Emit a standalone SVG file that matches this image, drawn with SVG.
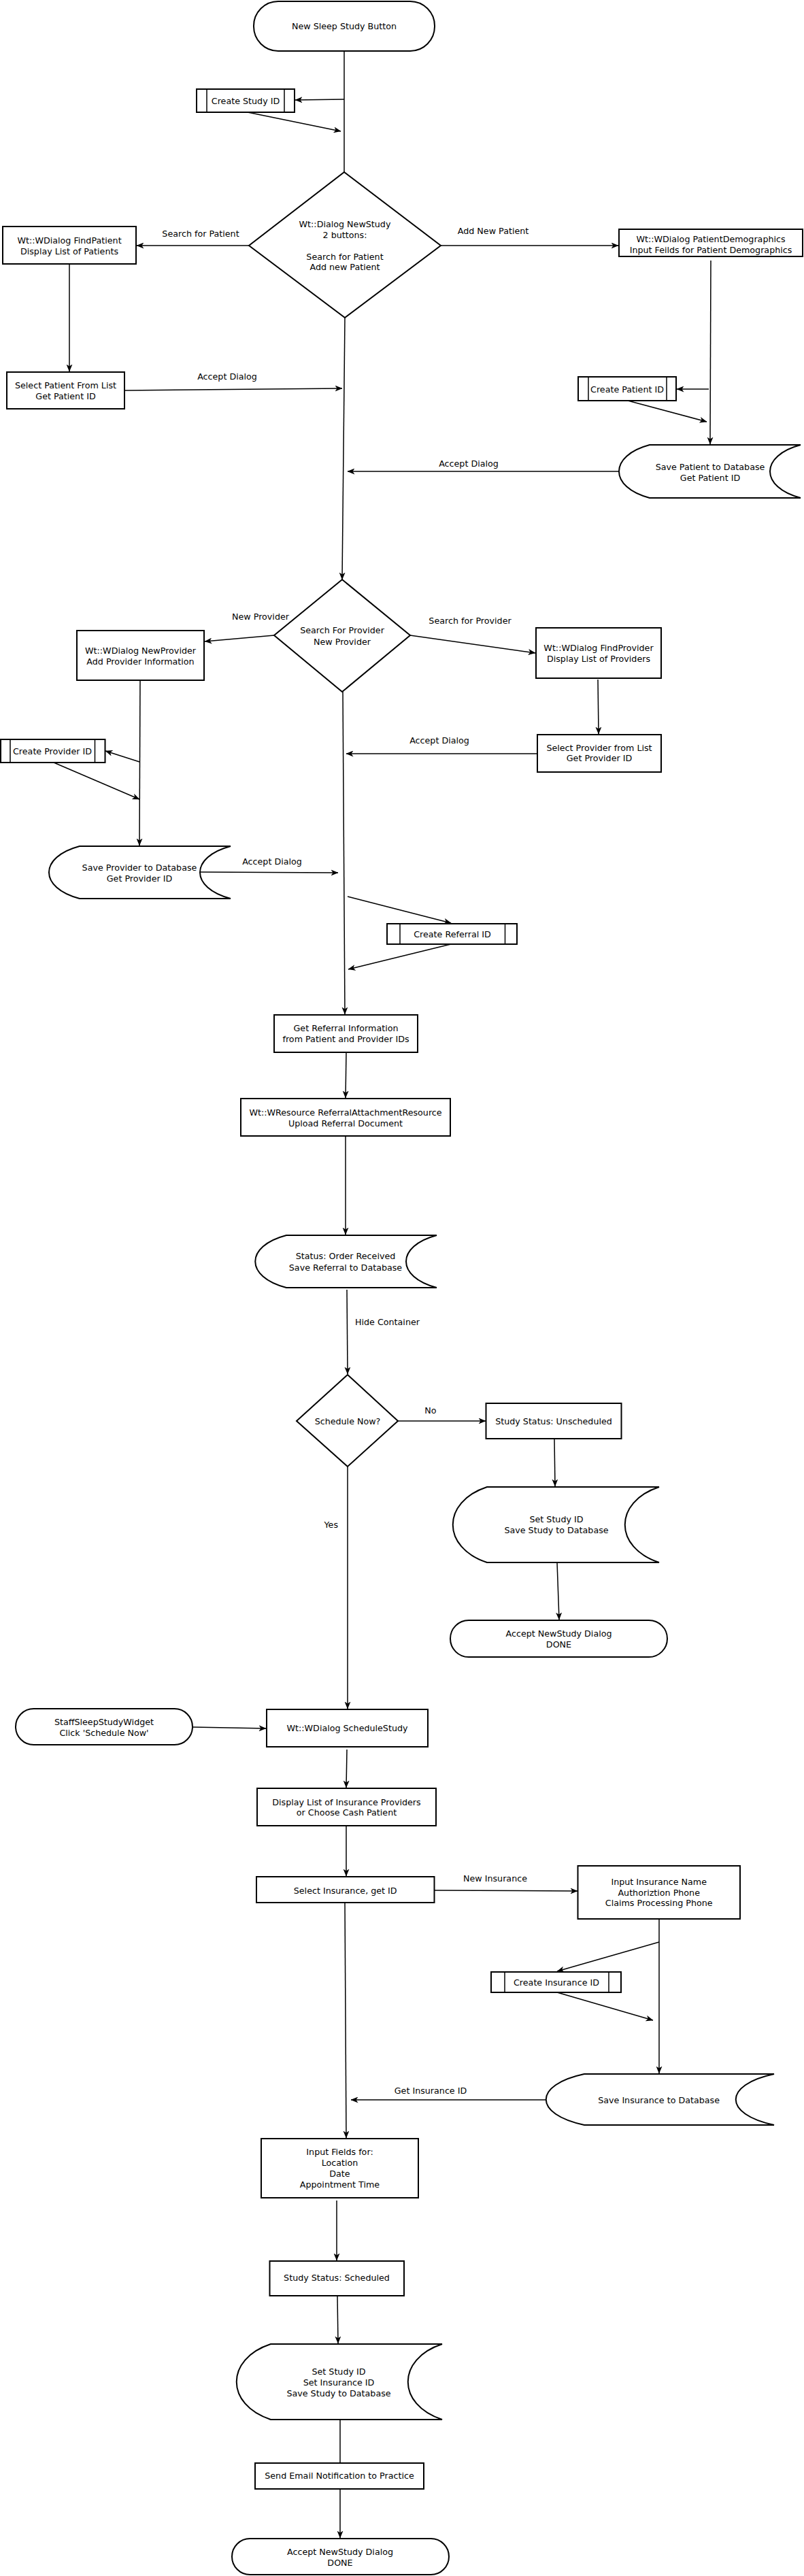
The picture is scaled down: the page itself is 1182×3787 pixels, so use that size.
<svg xmlns="http://www.w3.org/2000/svg" width="1182" height="3787" viewBox="0 0 1182 3787">
<style>
.n{fill:#fff;stroke:#000;stroke-width:2}
.i{stroke:#000;stroke-width:1.5;fill:none}
.t{font-family:"DejaVu Sans",sans-serif;font-size:12.7px;fill:#000;text-anchor:middle}
.l{font-family:"DejaVu Sans",sans-serif;font-size:12.7px;fill:#000}
.c{stroke:#000;stroke-width:1.5;fill:none}
.a{marker-end:url(#arr)}
</style>
<defs>
<marker id="arr" viewBox="0 0 11 9" refX="10.5" refY="4.5" markerWidth="11" markerHeight="9" markerUnits="userSpaceOnUse" orient="auto"><path d="M0,0 L11,4.5 L0,9 L3,4.5 z" fill="#000"/></marker>
</defs>
<rect width="1182" height="3787" fill="#fff"/>

<g id="connectors">
<line class="c" x1="506" y1="75" x2="506" y2="253"/>
<line class="c a" x1="506" y1="146" x2="434" y2="147"/>
<line class="c a" x1="364" y1="165" x2="501" y2="193"/>
<line class="c a" x1="366" y1="361" x2="201" y2="361"/>
<line class="c a" x1="102" y1="388" x2="102" y2="546"/>
<line class="c a" x1="183" y1="574" x2="503" y2="571"/>
<line class="c a" x1="648" y1="361" x2="909" y2="361"/>
<line class="c a" x1="1045" y1="383" x2="1044" y2="653"/>
<line class="c a" x1="1042" y1="572" x2="995" y2="572"/>
<line class="c a" x1="923" y1="589" x2="1039" y2="620"/>
<line class="c a" x1="910" y1="693" x2="511" y2="693"/>
<line class="c a" x1="507" y1="467" x2="503" y2="852"/>
<line class="c a" x1="403" y1="934" x2="301" y2="943"/>
<line class="c a" x1="603" y1="934" x2="787" y2="960"/>
<line class="c a" x1="879" y1="999" x2="880" y2="1079"/>
<line class="c a" x1="790" y1="1108" x2="509" y2="1108"/>
<line class="c a" x1="206" y1="1000" x2="205" y2="1243"/>
<line class="c a" x1="205" y1="1120" x2="155" y2="1104"/>
<line class="c a" x1="79" y1="1121" x2="205" y2="1175"/>
<line class="c a" x1="294" y1="1282" x2="497" y2="1283"/>
<line class="c a" x1="504" y1="1017" x2="507" y2="1491"/>
<line class="c a" x1="511" y1="1318" x2="663" y2="1357"/>
<line class="c a" x1="663" y1="1388" x2="512" y2="1425"/>
<line class="c a" x1="509" y1="1547" x2="508" y2="1614"/>
<line class="c a" x1="508" y1="1670" x2="508" y2="1815"/>
<line class="c a" x1="510" y1="1896" x2="511" y2="2020"/>
<line class="c a" x1="585" y1="2089" x2="714" y2="2089"/>
<line class="c a" x1="815" y1="2115" x2="816" y2="2185"/>
<line class="c a" x1="819" y1="2297" x2="822" y2="2381"/>
<line class="c a" x1="511" y1="2156" x2="511" y2="2512"/>
<line class="c a" x1="283" y1="2539" x2="391" y2="2541"/>
<line class="c a" x1="510" y1="2572" x2="509" y2="2628"/>
<line class="c a" x1="509" y1="2684" x2="509" y2="2758"/>
<line class="c a" x1="638" y1="2779" x2="849" y2="2780"/>
<line class="c a" x1="969" y1="2821" x2="969" y2="3048"/>
<line class="c a" x1="969" y1="2855" x2="819" y2="2898"/>
<line class="c a" x1="819" y1="2929" x2="960" y2="2970"/>
<line class="c a" x1="803" y1="3087" x2="516" y2="3087"/>
<line class="c a" x1="507" y1="2797" x2="509" y2="3143"/>
<line class="c a" x1="495" y1="3235" x2="495" y2="3323"/>
<line class="c a" x1="496" y1="3375" x2="497" y2="3445"/>
<line class="c" x1="500" y1="3557" x2="500" y2="3621"/>
<line class="c a" x1="500" y1="3659" x2="500" y2="3731"/>
<text class="t" x="295" y="348">Search for Patient</text>
<text class="t" x="334" y="558">Accept Dialog</text>
<text class="t" x="725" y="344">Add New Patient</text>
<text class="t" x="689" y="686">Accept Dialog</text>
<text class="t" x="383" y="911">New Provider</text>
<text class="t" x="691" y="917">Search for Provider</text>
<text class="t" x="646" y="1093">Accept Dialog</text>
<text class="t" x="400" y="1271">Accept Dialog</text>
<text class="l" x="522" y="1948">Hide Container</text>
<text class="t" x="633" y="2078">No</text>
<text class="l" x="497" y="2246" text-anchor="end">Yes</text>
<text class="t" x="728" y="2766">New Insurance</text>
<text class="t" x="633" y="3078">Get Insurance ID</text>
</g>

<g id="start"><rect class="n" x="373" y="2" width="266" height="73" rx="36"/><text class="t" x="506" y="43">New Sleep Study Button</text></g>

<g id="createStudyId"><rect class="n" x="289" y="131" width="144" height="34"/><line class="i" x1="304" y1="131" x2="304" y2="165"/><line class="i" x1="418" y1="131" x2="418" y2="165"/><text class="t" x="361" y="153">Create Study ID</text></g>

<g id="newStudy"><polygon class="n" points="506,253 648,361 507,467 366,361"/><text class="t" x="507" y="334">Wt::Dialog NewStudy</text><text class="t" x="507" y="350">2 buttons:</text><text class="t" x="507" y="382">Search for Patient</text><text class="t" x="507" y="397">Add new Patient</text></g>

<g id="findPatient"><rect class="n" x="4" y="333" width="196" height="55"/><text class="t" x="102" y="358">Wt::WDialog FindPatient</text><text class="t" x="102" y="374">Display List of Patients</text></g>

<g id="selectPatient"><rect class="n" x="10" y="547" width="173" height="54"/><text class="t" x="96.5" y="571">Select Patient From List</text><text class="t" x="96.5" y="587">Get Patient ID</text></g>

<g id="patientDemographics"><rect class="n" x="910" y="337" width="270" height="40"/><text class="t" x="1045" y="356">Wt::WDialog PatientDemographics</text><text class="t" x="1045" y="372">Input Feilds for Patient Demographics</text></g>

<g id="createPatientId"><rect class="n" x="850" y="554" width="144" height="35"/><line class="i" x1="865" y1="554" x2="865" y2="589"/><line class="i" x1="980" y1="554" x2="980" y2="589"/><text class="t" x="922" y="577">Create Patient ID</text></g>

<g id="savePatient"><path class="n" d="M955,654 L1177,654 C1117,670 1117,716 1177,732 L955,732 C895,716 895,670 955,654 z"/><text class="t" x="1044" y="691">Save Patient to Database</text><text class="t" x="1044" y="707">Get Patient ID</text></g>

<g id="providerDecision"><polygon class="n" points="503,852 603,934 503,1017 403,934"/><text class="t" x="503" y="931">Search For Provider</text><text class="t" x="503" y="948">New Provider</text></g>

<g id="newProvider"><rect class="n" x="113" y="927" width="187" height="73"/><text class="t" x="206.5" y="961">Wt::WDialog NewProvider</text><text class="t" x="206.5" y="977">Add Provider Information</text></g>

<g id="findProvider"><rect class="n" x="788" y="923" width="184" height="74"/><text class="t" x="880" y="957">Wt::WDialog FindProvider</text><text class="t" x="880" y="973">Display List of Providers</text></g>

<g id="selectProvider"><rect class="n" x="790" y="1080" width="182" height="55"/><text class="t" x="881" y="1104">Select Provider from List</text><text class="t" x="881" y="1119">Get Provider ID</text></g>

<g id="createProviderId"><rect class="n" x="1" y="1087" width="153.5" height="34"/><line class="i" x1="15" y1="1087" x2="15" y2="1121"/><line class="i" x1="139.5" y1="1087" x2="139.5" y2="1121"/><text class="t" x="77" y="1109">Create Provider ID</text></g>

<g id="saveProvider"><path class="n" d="M117,1244 L339,1244 C279,1260 279,1305 339,1321 L117,1321 C57,1305 57,1260 117,1244 z"/><text class="t" x="205" y="1280">Save Provider to Database</text><text class="t" x="205" y="1296">Get Provider ID</text></g>

<g id="createReferralId"><rect class="n" x="569" y="1358" width="191" height="30"/><line class="i" x1="588" y1="1358" x2="588" y2="1388"/><line class="i" x1="742.5" y1="1358" x2="742.5" y2="1388"/><text class="t" x="665" y="1378">Create Referral ID</text></g>

<g id="getReferral"><rect class="n" x="403" y="1492" width="211" height="55"/><text class="t" x="508.5" y="1516">Get Referral Information</text><text class="t" x="508.5" y="1532">from Patient and Provider IDs</text></g>

<g id="wresource"><rect class="n" x="354" y="1615" width="308" height="55"/><text class="t" x="508" y="1640">Wt::WResource ReferralAttachmentResource</text><text class="t" x="508" y="1656">Upload Referral Document</text></g>

<g id="orderReceived"><path class="n" d="M421,1816 L642,1816 C582,1832 582,1877 642,1893 L421,1893 C360,1877 360,1832 421,1816 z"/><text class="t" x="508" y="1851">Status: Order Received</text><text class="t" x="508" y="1868">Save Referral to Database</text></g>

<g id="scheduleNow"><polygon class="n" points="511,2021 585,2089 511,2156 436,2089"/><text class="t" x="511" y="2094">Schedule Now?</text></g>

<g id="unscheduled"><rect class="n" x="714.5" y="2063" width="199" height="52"/><text class="t" x="814" y="2094">Study Status: Unscheduled</text></g>

<g id="setStudy1"><path class="n" d="M716,2186 L969,2186 C902,2208 902,2275 969,2297 L716,2297 C649,2275 649,2208 716,2186 z"/><text class="t" x="818" y="2238">Set Study ID</text><text class="t" x="818" y="2254">Save Study to Database</text></g>

<g id="accept1"><rect class="n" x="662" y="2382" width="319" height="54" rx="27"/><text class="t" x="821.5" y="2406">Accept NewStudy Dialog</text><text class="t" x="821.5" y="2422">DONE</text></g>

<g id="staffWidget"><rect class="n" x="23" y="2512" width="260" height="53" rx="26.5"/><text class="t" x="153" y="2536">StaffSleepStudyWidget</text><text class="t" x="153" y="2552">Click 'Schedule Now'</text></g>

<g id="scheduleStudy"><rect class="n" x="392" y="2513" width="237" height="55"/><text class="t" x="510.5" y="2545">Wt::WDialog ScheduleStudy</text></g>

<g id="displayList"><rect class="n" x="378" y="2629" width="263" height="55"/><text class="t" x="509.5" y="2654">Display List of Insurance Providers</text><text class="t" x="509.5" y="2669">or Choose Cash Patient</text></g>

<g id="selectInsurance"><rect class="n" x="377" y="2759" width="261.5" height="38"/><text class="t" x="507.7" y="2784">Select Insurance, get ID</text></g>

<g id="inputInsurance"><rect class="n" x="849.5" y="2743" width="238.5" height="78"/><text class="t" x="968.7" y="2771">Input Insurance Name</text><text class="t" x="968.7" y="2787">Authoriztion Phone</text><text class="t" x="968.7" y="2802">Claims Processing Phone</text></g>

<g id="createInsuranceId"><rect class="n" x="722" y="2899" width="191" height="30"/><line class="i" x1="742" y1="2899" x2="742" y2="2929"/><line class="i" x1="895" y1="2899" x2="895" y2="2929"/><text class="t" x="818" y="2919">Create Insurance ID</text></g>

<g id="saveInsurance"><path class="n" d="M859,3049 L1138,3049 C1063,3065 1063,3108 1138,3124 L859,3124 C784,3108 784,3065 859,3049 z"/><text class="t" x="968.6" y="3092">Save Insurance to Database</text></g>

<g id="inputFields"><rect class="n" x="384" y="3144" width="231" height="87"/><text class="t" x="499.5" y="3168">Input Fields for:</text><text class="t" x="499.5" y="3184">Location</text><text class="t" x="499.5" y="3200">Date</text><text class="t" x="499.5" y="3216">Appointment Time</text></g>

<g id="scheduled"><rect class="n" x="396.5" y="3324" width="197.5" height="51"/><text class="t" x="495" y="3353">Study Status: Scheduled</text></g>

<g id="setStudy2"><path class="n" d="M398,3446 L650,3446 C583,3468 583,3535 650,3557 L398,3557 C331,3535 331,3468 398,3446 z"/><text class="t" x="498" y="3491">Set Study ID</text><text class="t" x="498" y="3507">Set Insurance ID</text><text class="t" x="498" y="3523">Save Study to Database</text></g>

<g id="sendEmail"><rect class="n" x="375" y="3621" width="248" height="38"/><text class="t" x="499" y="3644">Send Email Notification to Practice</text></g>

<g id="accept2"><rect class="n" x="341" y="3732" width="319" height="53" rx="26.5"/><text class="t" x="500" y="3756">Accept NewStudy Dialog</text><text class="t" x="500" y="3772">DONE</text></g>
</svg>
